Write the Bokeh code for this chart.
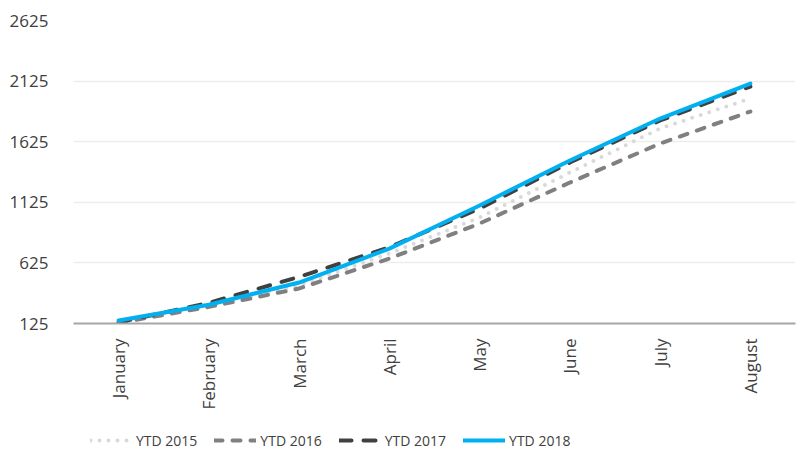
import math
from bokeh.plotting import figure
from bokeh.layouts import column
from bokeh.models import FactorRange, Range1d, Legend, LegendItem, FixedTicker
from bokeh.embed import file_html
from bokeh.resources import INLINE

months = ["January", "February", "March", "April", "May", "June", "July", "August"]
ytd_2015 = [140, 275, 440, 703, 1000, 1371, 1734, 1981]
ytd_2016 = [130, 262, 414, 661, 950, 1288, 1610, 1874]
ytd_2017 = [135, 295, 510, 755, 1074, 1453, 1800, 2080]
ytd_2018 = [150, 280, 463, 743, 1099, 1470, 1816, 2105]
series_names = ["YTD 2015", "YTD 2016", "YTD 2017", "YTD 2018"]
y_ticks = [125, 625, 1125, 1625, 2125, 2625]

FONT = "Open Sans"
TXT = "#404040"
styles = [
    dict(line_color="#d9d9d9", line_width=4, line_dash="0 9", line_cap="round"),
    dict(line_color="#808080", line_width=4, line_dash="8 10", line_cap="round"),
    dict(line_color="#404040", line_width=4, line_dash="12 12", line_cap="round"),
    dict(line_color="#00b0f0", line_width=4, line_cap="round"),
]
all_series = [ytd_2015, ytd_2016, ytd_2017, ytd_2018]

p = figure(width=797, height=426, x_range=FactorRange(*months, range_padding=0),
           y_range=Range1d(125, 2625), output_backend="svg", toolbar_location=None,
           min_border_left=73, min_border_right=2, min_border_top=20, min_border_bottom=103)
p.outline_line_color = None
p.background_fill_color = "white"

for vals, st in zip(all_series, styles):
    p.line(months, vals, **st)

p.yaxis.ticker = FixedTicker(ticks=y_ticks)
p.yaxis.axis_line_color = None
p.yaxis.major_tick_line_color = None
p.yaxis.minor_tick_line_color = None
p.yaxis.major_label_standoff = 19
p.yaxis.major_label_text_font = FONT
p.yaxis.major_label_text_font_size = "17px"
p.yaxis.major_label_text_color = TXT

p.xaxis.axis_line_color = "#a6a6a6"
p.xaxis.axis_line_width = 2
p.xaxis.major_tick_line_color = None
p.xaxis.minor_tick_line_color = None
p.xaxis.major_label_orientation = math.pi / 2
p.xaxis.major_label_standoff = 9
p.xaxis.major_label_text_font = FONT
p.xaxis.major_label_text_font_size = "17px"
p.xaxis.major_label_text_color = TXT

p.xgrid.grid_line_color = None
p.ygrid.ticker = FixedTicker(ticks=y_ticks)
p.ygrid.grid_line_color = "#ededed"
p.ygrid.grid_line_width = 1.5

# legend strip below the chart (series drawn outside its visible y range)
p2 = figure(width=797, height=26, x_range=FactorRange(*months, range_padding=0),
            y_range=Range1d(-10, -9), x_axis_type=None, y_axis_type=None,
            output_backend="svg", toolbar_location=None, min_border=0)
p2.outline_line_color = None
p2.grid.visible = False
items = []
for name, vals, st in zip(series_names, all_series, styles):
    r = p2.line(months, vals, **st)
    items.append(LegendItem(label=name, renderers=[r]))
legend = Legend(items=items, orientation="horizontal", location=(17, 2),
                border_line_color=None, background_fill_alpha=0, padding=0, margin=0,
                spacing=17, glyph_width=42, label_standoff=4, label_text_font=FONT,
                label_text_font_size="14px", label_text_color=TXT)
p2.add_layout(legend, "center")

open("out.html", "w").write(file_html(column(p, p2, spacing=0), INLINE))
